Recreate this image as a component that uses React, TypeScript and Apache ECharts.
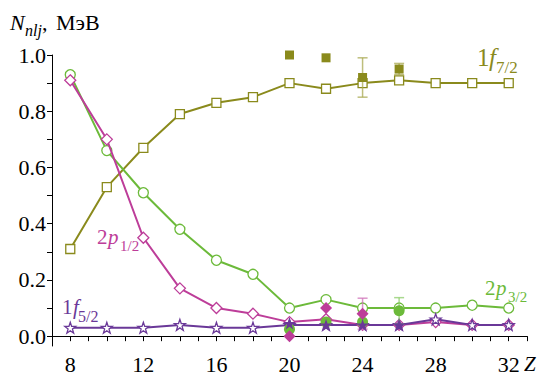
import React, { useEffect, useRef } from "react";
import * as echarts from "echarts";

const Z = [8, 10, 12, 14, 16, 18, 20, 22, 24, 26, 28, 30, 32];
const f72 = [0.31, 0.53, 0.67, 0.79, 0.83, 0.85, 0.9, 0.88, 0.9, 0.91, 0.9, 0.9, 0.9];
const p32 = [0.93, 0.66, 0.51, 0.38, 0.27, 0.22, 0.1, 0.13, 0.1, 0.1, 0.1, 0.11, 0.1];
const p12 = [0.91, 0.7, 0.35, 0.17, 0.1, 0.08, 0.05, 0.06, 0.04, 0.04, 0.05, 0.04, 0.04];
const f52 = [0.03, 0.03, 0.03, 0.04, 0.03, 0.03, 0.04, 0.04, 0.04, 0.04, 0.06, 0.04, 0.04];

const expZ = [20, 22, 24, 26];
const f72Exp = [1.0, 0.99, 0.92, 0.95];
const f72Err = [null, null, 0.07, 0.02];
const p32Exp = [0.025, 0.05, 0.05, 0.09];
const p32Err = [null, null, null, 0.047];
const p12ExpZ = [20, 22, 24];
const p12Exp = [0.0, 0.1, 0.08];
const p12Err = [null, null, 0.055];
const f52Exp = [0.045, 0.04, 0.04, 0.04];

const xTicks = [8, 9, 10, 11, 12, 13, 14, 15, 16, 17, 18, 19, 20, 21, 22, 23, 24, 25, 26, 27, 28, 29, 30, 31, 32, 33];
const xLabels = [8, 12, 16, 20, 24, 28, 32];
const yTicks = [0, 0.1, 0.2, 0.3, 0.4, 0.5, 0.6, 0.7, 0.8, 0.9, 1.0];
const yLabels = [0, 0.2, 0.4, 0.6, 0.8, 1.0];

const OLIVE = "#8a8a1c";
const GREEN = "#6cba3a";
const MAGENTA = "#bd3d99";
const PURPLE = "#6a3898";

const STAR = "path://M0,-10L2.35,-3.24L9.51,-3.09L3.8,1.24L5.88,8.09L0,4L-5.88,8.09L-3.8,1.24L-9.51,-3.09L-2.35,-3.24Z";
const FONT = "Liberation Serif";

function pairs(xs: number[], ys: number[]) {
  return xs.map((x, i) => [x, ys[i]]);
}

function errData(xs: number[], ys: number[], es: (number | null)[]) {
  const out: number[][] = [];
  xs.forEach((x, i) => {
    const e = es[i];
    if (e != null) out.push([x, ys[i] - e, ys[i] + e]);
  });
  return out;
}

function errSeries(data: number[][], color: string) {
  return {
    type: "custom",
    z: 4,
    silent: true,
    data,
    renderItem: (params: any, api: any) => {
      const x = api.value(0);
      const lo = api.coord([x, api.value(1)]);
      const hi = api.coord([x, api.value(2)]);
      const w = 5;
      const st = { stroke: color, lineWidth: 1.5, opacity: 0.75 };
      return {
        type: "group",
        children: [
          { type: "line", shape: { x1: lo[0], y1: lo[1], x2: hi[0], y2: hi[1] }, style: st },
          { type: "line", shape: { x1: lo[0] - w, y1: lo[1], x2: lo[0] + w, y2: lo[1] }, style: st },
          { type: "line", shape: { x1: hi[0] - w, y1: hi[1], x2: hi[0] + w, y2: hi[1] }, style: st },
        ],
      };
    },
  };
}

function lineSeries(data: number[][], color: string, symbol: string, size: number, z: number) {
  return {
    type: "line",
    data,
    z,
    symbol,
    symbolSize: size,
    showAllSymbol: true,
    lineStyle: { color, width: 2 },
    itemStyle: { color: "#ffffff", borderColor: color, borderWidth: 1.3 },
  };
}

function scatterSeries(data: number[][], color: string, symbol: string, size: number) {
  return {
    type: "scatter",
    data,
    z: 6,
    symbol,
    symbolSize: size,
    itemStyle: { color, opacity: 1 },
  };
}

function txt(text: string, x: number, y: number, size: number, color: string, italic = false) {
  return {
    type: "text",
    x,
    y,
    style: {
      text,
      fill: color,
      fontFamily: FONT,
      fontSize: size,
      fontStyle: italic ? "italic" : "normal",
      verticalAlign: "middle",
      align: "left",
    },
  };
}

export default function App() {
  const ref = useRef<HTMLDivElement>(null);
  useEffect(() => {
    if (!ref.current) return;
    const chart = echarts.init(ref.current, undefined, { renderer: "svg" });
    const axisCommon = {
      axisLine: { show: true, lineStyle: { color: "#000", width: 1 } },
      splitLine: { show: false },
    };
    chart.setOption({
      animation: false,
      backgroundColor: "#fff",
      grid: { left: 52, right: 14, top: 55, bottom: 28, containLabel: false },
      xAxis: {
        type: "value",
        min: 7,
        max: 33,
        ...axisCommon,
        axisTick: { show: true, length: 5, inside: false, customValues: xTicks, lineStyle: { color: "#000" } },
        axisLabel: {
          customValues: xLabels,
          color: "#000",
          fontSize: 22,
          fontFamily: FONT,
          margin: 7,
        },
      },
      yAxis: {
        type: "value",
        min: -0.035,
        max: 1.0,
        ...axisCommon,
        axisTick: { show: true, length: 5, inside: false, customValues: yTicks, lineStyle: { color: "#000" } },
        axisLabel: {
          customValues: yLabels,
          color: "#000",
          fontSize: 22,
          fontFamily: FONT,
          margin: 6,
          formatter: (v: number) => v.toFixed(1),
        },
      },
      series: [
        lineSeries(pairs(Z, f72), OLIVE, "rect", 9, 2),
        lineSeries(pairs(Z, p32), GREEN, "circle", 10, 2),
        lineSeries(pairs(Z, p12), MAGENTA, "diamond", 11, 3),
        lineSeries(pairs(Z, f52), PURPLE, STAR, 11, 3),
        errSeries(errData(expZ, f72Exp, f72Err), "#a8a850"),
        errSeries(errData(expZ, p32Exp, p32Err), "#8ccc6a"),
        errSeries(errData(p12ExpZ, p12Exp, p12Err), "#cf72b8"),
        scatterSeries(pairs(expZ, f72Exp), OLIVE, "rect", 9),
        scatterSeries(pairs(expZ, p32Exp), GREEN, "circle", 11),
        scatterSeries(pairs(p12ExpZ, p12Exp), MAGENTA, "diamond", 12),
        scatterSeries(pairs(expZ, f52Exp), PURPLE, STAR, 12),
      ],
      graphic: [
        txt("N", 10, 22, 22, "#000", true),
        txt("nlj", 25, 30, 16, "#000", true),
        txt(",", 42, 22, 22, "#000"),
        txt("МэВ", 56, 22, 22, "#000"),
        txt("Z", 524, 364, 21, "#000", true),
        txt("1", 477, 57, 25, OLIVE),
        txt("f", 489, 57, 25, OLIVE, true),
        txt("7/2", 496, 67, 17, OLIVE),
        txt("2", 97, 237, 21, MAGENTA),
        txt("p", 108, 237, 21, MAGENTA, true),
        txt("1/2", 120, 246, 15, MAGENTA),
        txt("2", 485, 288, 21, GREEN),
        txt("p", 496, 288, 21, GREEN, true),
        txt("3/2", 508, 297, 15, GREEN),
        txt("1", 62, 307, 21, PURPLE),
        txt("f", 73, 307, 21, PURPLE, true),
        txt("5/2", 78, 316, 16, PURPLE),
      ],
    });
    return () => chart.dispose();
  }, []);
  return (
    <div
      ref={ref}
      style={{ position: "fixed", left: 0, top: 0, width: 541, height: 375, background: "#fff" }}
    />
  );
}
